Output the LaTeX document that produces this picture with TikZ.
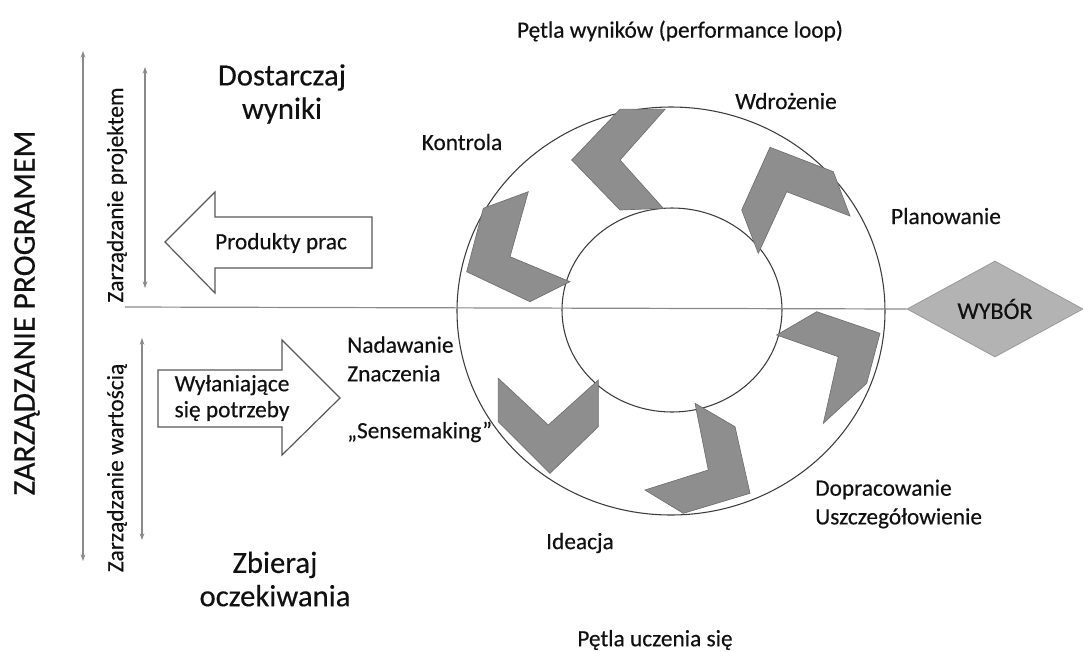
\documentclass[tikz,border=0pt]{standalone}
\usepackage{fontspec}
\setmainfont{Carlito}[FakeBold=0.35]
\usetikzlibrary{arrows.meta,shapes.geometric}
\definecolor{txt}{HTML}{111111}
\definecolor{linegray}{HTML}{8A8A8A}
\definecolor{chevfill}{HTML}{8E8E8E}
\definecolor{chevedge}{HTML}{707070}
\definecolor{diafill}{HTML}{B3B3B3}
\definecolor{diaedge}{HTML}{9A9A9A}
\definecolor{ringcol}{HTML}{3C3C3C}
\tikzset{
  lbl/.style={text=txt, inner sep=0pt, align=left, font=\fontsize{17.5}{21.5}\selectfont},
  biglbl/.style={text=txt, inner sep=0pt, align=center, font=\fontsize{23}{25}\selectfont},
  chev/.style={fill=chevfill, draw=chevedge, line width=0.5pt},
  blockarrow/.style={draw=ringcol!85, line width=0.9pt, fill=white},
  dimarrow/.style={draw=linegray, line width=0.8pt, {Stealth[length=5pt,width=3.5pt]}-{Stealth[length=5pt,width=3.5pt]}},
  ring/.style={draw=ringcol, line width=0.8pt}
}
\begin{document}
\begin{tikzpicture}[x=0.75pt,y=-0.75pt]
\useasboundingbox (0,0) rectangle (1083,651);
\fill[white] (0,0) rectangle (1083,651);

% rings
\draw[ring] (671,311) ellipse [x radius=160.5pt, y radius=153pt];
\draw[ring] (672,310) ellipse [x radius=82.5pt, y radius=76.5pt];

% diamond and horizontal line
\node[diamond, draw=diaedge, fill=diafill, line width=0.6pt, minimum width=132pt, minimum height=72pt, inner sep=0pt, text=txt, font=\fontsize{18}{20}\selectfont] (wybor) at (995,309) {WYBÓR};
\coordinate (hl) at (125,307);
\draw[linegray, line width=0.9pt] (hl) -- (wybor.west);

% chevrons
\filldraw[chev] (620,109.3) -- (665,109.3) -- (620,160) -- (663.3,208.3) -- (620,210) -- (571.7,160) -- cycle;
\filldraw[chev] (770,147.3) -- (833.3,171.7) -- (850,216) -- (786.7,191.7) -- (758.3,253.3) -- (741.7,210) -- cycle;
\filldraw[chev] (528.3,191.7) -- (510,256.7) -- (570,281.7) -- (530,301.7) -- (466.7,271.7) -- (483.3,208.3) -- cycle;
\filldraw[chev] (776.7,335) -- (816.7,311.7) -- (880,333.3) -- (866.7,383.3) -- (823.3,423.3) -- (838.3,356.7) -- cycle;
\filldraw[chev] (695,403.3) -- (735,426.7) -- (750,493.3) -- (683.3,513.3) -- (645,490) -- (708.3,470) -- cycle;
\filldraw[chev] (498.3,378.3) -- (548.3,425) -- (598.3,380) -- (598.3,426.7) -- (550,473.3) -- (498.3,421.7) -- cycle;

% block arrows
\draw[blockarrow] (165,242) -- (215,192) -- (215,217) -- (372,217) -- (372,268) -- (215,268) -- (215,293) -- cycle;
\draw[blockarrow] (158,370) -- (282,370) -- (282,340) -- (340,398) -- (282,455) -- (282,427) -- (158,427) -- cycle;
\node[lbl] (produkty) at (281,243) {Produkty prac};
\node[lbl, align=center, font=\fontsize{17.5}{19.5}\selectfont] (potrzeby) at (232,398) {Wyłaniające\\się potrzeby};

% vertical dimension arrows
\coordinate (pa) at (83,51);
\coordinate (pb) at (83,561);
\draw[dimarrow] (pa) -- (pb);
\coordinate (ja) at (145,67);
\coordinate (jb) at (145,288);
\draw[dimarrow] (ja) -- (jb);
\coordinate (wa) at (142,338);
\coordinate (wb) at (142,540);
\draw[dimarrow] (wa) -- (wb);

% rotated labels
\node[text=txt, inner sep=0pt, rotate=90, font=\fontsize{23.7}{26}\selectfont] (program) at (27,313) {ZARZĄDZANIE PROGRAMEM};
\node[lbl, rotate=90] (projekt) at (117,195) {Zarządzanie projektem};
\node[lbl, rotate=90] (wartosc) at (117,468) {Zarządzanie wartością};

% big labels
\node[biglbl] (dostarczaj) at (282,94) {Dostarczaj\\wyniki};
\node[biglbl] (zbieraj) at (275,579) {Zbieraj\\oczekiwania};

% loop labels
\node[lbl] (petlaw) at (680,31) {Pętla wyników (performance loop)};
\node[lbl] (wdrozenie) at (786,101) {Wdrożenie};
\node[lbl] (kontrola) at (462,142) {Kontrola};
\node[lbl] (planowanie) at (946,216) {Planowanie};
\node[lbl, anchor=west] (nadawanie) at (347,359) {Nadawanie\\Znaczenia};
\node[lbl, anchor=west] (sense) at (347,432) {„Sensemaking”};
\node[lbl, anchor=west] (doprac) at (815,504) {Dopracowanie\\Uszczegółowienie};
\node[lbl] (ideacja) at (580,543) {Ideacja};
\node[lbl] (petlau) at (655,640) {Pętla uczenia się};
\end{tikzpicture}
\end{document}
